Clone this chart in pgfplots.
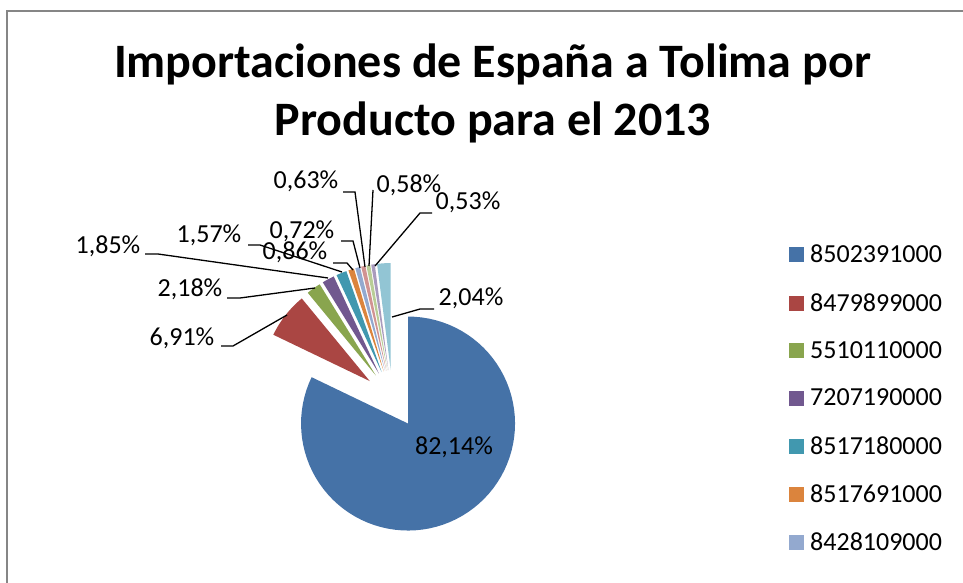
\documentclass[border=0pt]{standalone}
\usepackage{pgfplots}
\pgfplotsset{compat=1.18}
\usepackage{fontspec}
\setmainfont{Carlito}
\definecolor{pc1}{HTML}{4572A7}
\definecolor{pc2}{HTML}{AA4643}
\definecolor{pc3}{HTML}{89A54E}
\definecolor{pc4}{HTML}{71588F}
\definecolor{pc5}{HTML}{4198AF}
\definecolor{pc6}{HTML}{DB843D}
\definecolor{pc7}{HTML}{93A9CF}
\definecolor{pc8}{HTML}{D19392}
\definecolor{pc9}{HTML}{B9CD96}
\definecolor{pc10}{HTML}{A99BBD}
\definecolor{pc11}{HTML}{92C5D4}
\definecolor{frame}{HTML}{868686}
\newcommand\lbl{\fontsize{26}{30}\selectfont}
\begin{document}
\begin{tikzpicture}[x=1pt,y=1pt]
\path[use as bounding box] (0,0) rectangle (963,582);
\begin{axis}[at={(0,0)},anchor=origin,
  width=963pt,height=582pt,scale only axis,
  xmin=0,xmax=963,ymin=0,ymax=582,hide axis,clip=false,
  legend entries={8502391000,8479899000,5510110000,7207190000,8517180000,8517691000,8428109000},
  legend style={at={(axis cs:789,337)},anchor=north west,draw=none,fill=none,
    font=\lbl,row sep=29pt,inner xsep=0pt,inner ysep=0pt,
    /tikz/every odd column/.style={column sep=0pt},
    nodes={inner xsep=6pt,inner ysep=0pt}},
  legend cell align=left,
  legend image code/.code={\fill[#1] (0pt,-7.5pt) rectangle (15pt,7.5pt);},
]
\xdef\cum{0}
\foreach \v [count=\i] in {82.14,6.91,2.18,1.85,1.57,0.86,0.72,0.63,0.58,0.53,2.04} {
  \pgfmathsetmacro\sA{\cum*3.6/1.0001}
  \pgfmathsetmacro\sB{(\cum+\v)*3.6/1.0001}
  \pgfmathsetmacro\tA{90-\sB}
  \pgfmathsetmacro\tB{90-\sA}
  \pgfmathsetmacro\m{90-(\sA+\sB)/2}
  \pgfmathsetmacro\ax{392.6+29*cos(\m)}
  \pgfmathsetmacro\ay{183+29*sin(\m)}
  \ifnum\i>7 \def\fp{,forget plot}\else\def\fp{}\fi
  \edef\temp{\noexpand\addplot[fill=pc\i,draw=none,domain=\tA:\tB,samples=80\fp] ({\ax+107*cos(x)},{\ay+107*sin(x)}) -- (axis cs:\ax,\ay) -- cycle;}
  \temp
  \pgfmathsetmacro\newcum{\cum+\v}
  \xdef\cum{\newcum}
}
% data labels
\node[anchor=mid,font=\lbl] at (axis cs:454,130) {82,14\%};
\node[anchor=mid,font=\lbl] at (axis cs:182,239) {6,91\%};
\node[anchor=mid,font=\lbl] at (axis cs:190,288) {2,18\%};
\node[anchor=mid,font=\lbl] at (axis cs:108,331) {1,85\%};
\node[anchor=mid,font=\lbl] at (axis cs:209,342) {1,57\%};
\node[anchor=mid,font=\lbl] at (axis cs:295,325) {0,86\%};
\node[anchor=mid,font=\lbl] at (axis cs:302,346) {0,72\%};
\node[anchor=mid,font=\lbl] at (axis cs:306,396) {0,63\%};
\node[anchor=mid,font=\lbl] at (axis cs:409,392) {0,58\%};
\node[anchor=mid,font=\lbl] at (axis cs:468,375) {0,53\%};
\node[anchor=mid,font=\lbl] at (axis cs:471,279) {2,04\%};
% leader lines
\draw[line width=1.3pt] (axis cs:221,236)--(axis cs:233,236)--(axis cs:287,267);
\draw[line width=1.3pt] (axis cs:227,284)--(axis cs:240,284)--(axis cs:315,294);
\draw[line width=1.3pt] (axis cs:145,328)--(axis cs:158,328)--(axis cs:328,304);
\draw[line width=1.3pt] (axis cs:248,337)--(axis cs:260,337)--(axis cs:342,310);
\draw[line width=1.3pt] (axis cs:333,319)--(axis cs:347,319)--(axis cs:353,312);
\draw[line width=1.3pt] (axis cs:341,341)--(axis cs:353,341)--(axis cs:360,314);
\draw[line width=1.3pt] (axis cs:343,390)--(axis cs:355,390)--(axis cs:365,315);
\draw[line width=1.3pt] (axis cs:373,392)--(axis cs:369,316);
\draw[line width=1.3pt] (axis cs:432,369)--(axis cs:420,369)--(axis cs:375,316);
\draw[line width=1.3pt] (axis cs:434,273)--(axis cs:420,273)--(axis cs:392,265);
% title
\node[anchor=base,font=\fontsize{48}{58}\selectfont\bfseries] at (axis cs:492.5,504) {Importaciones de España a Tolima por};
\node[anchor=base,font=\fontsize{48}{58}\selectfont\bfseries] at (axis cs:493,446) {Producto para el 2013};
\end{axis}
\draw[frame,line width=2pt] (7,-5)--(7,571)--(970,571);
\end{tikzpicture}
\end{document}
